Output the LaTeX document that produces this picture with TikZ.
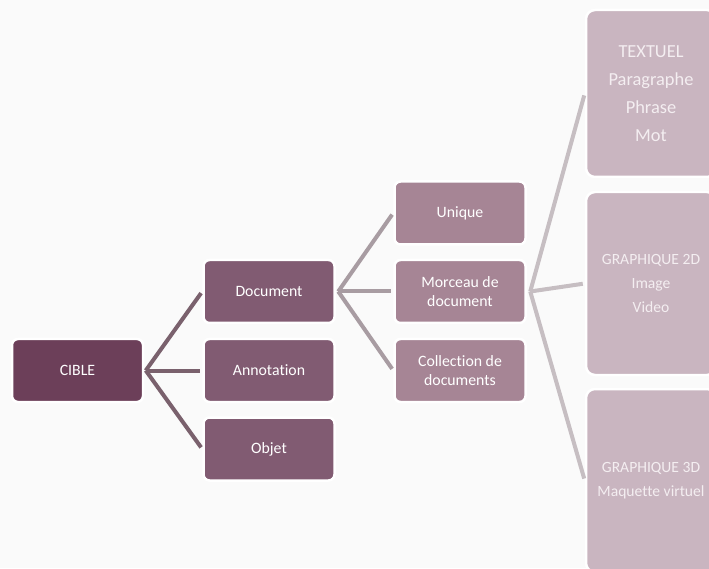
\documentclass[tikz,border=0pt]{standalone}
\usepackage{fontspec}
\setmainfont[Ligatures=NoCommon]{Carlito}
\usetikzlibrary{calc}
\definecolor{bg}{HTML}{FAFAFA}
\definecolor{croot}{HTML}{6C3F59}
\definecolor{cone}{HTML}{815B72}
\definecolor{ctwo}{HTML}{A68595}
\definecolor{cthree}{HTML}{C9B5C0}
\definecolor{lone}{HTML}{7A616D}
\definecolor{ltwo}{HTML}{A89CA2}
\definecolor{lthree}{HTML}{C6BEC2}
\definecolor{tlight}{HTML}{F4EEF1}
\begin{document}
\begin{tikzpicture}[x=1pt,y=1pt,
  box/.style={draw=white, line width=2.5pt, rounded corners=6pt, minimum width=131pt,
    minimum height=63pt, align=center, text=white, inner sep=0pt,
    font=\fontsize{15.8}{18.5}\selectfont},
  rootbox/.style={box, fill=croot},
  onebox/.style={box, fill=cone},
  twobox/.style={box, fill=ctwo},
  threebox/.style={box, fill=cthree, minimum width=130pt, rounded corners=9pt, text=tlight,
    font=\fontsize{15.6}{24}\selectfont},
  lkone/.style={draw=lone, line width=4pt, shorten >=2pt},
  lktwo/.style={draw=ltwo, line width=4pt, shorten >=2pt},
  lkthree/.style={draw=lthree, line width=4pt, shorten >=2pt}]
\fill[bg] (0,0) rectangle (709,568);
\useasboundingbox (0,0) rectangle (709,568);
\clip (0,0) rectangle (709,568);

\node[rootbox] (cible) at (77.5,197.5) {CIBLE};
\node[onebox] (doc) at (269,276.5) {Document};
\node[onebox] (annot) at (269,197.5) {Annotation};
\node[onebox] (objet) at (269,119) {Objet};
\node[twobox] (uniq) at (460,355) {Unique};
\node[twobox] (morc) at (460,276.5) {Morceau de\\document};
\node[twobox] (coll) at (460,197.5) {Collection de\\documents};
\node[threebox, minimum height=167pt, font=\fontsize{18.4}{28}\selectfont] (tx) at (651,474.5) {TEXTUEL\\Paragraphe\\Phrase\\Mot};
\node[threebox, minimum height=183pt] (gtwo) at (651,284.5) {GRAPHIQUE 2D\\Image\\Video};
\node[threebox, minimum height=183pt] (gthree) at (651,87.5) {GRAPHIQUE 3D\\Maquette virtuel};

\coordinate (fone) at ($(cible.east)+(1.5,0)$);
\coordinate (ftwo) at ($(doc.east)+(2.5,0)$);
\coordinate (fthree) at ($(morc.east)+(3.5,0)$);

\draw[lkone] (fone) -- (doc.west);
\draw[lkone] (fone) -- (annot.west);
\draw[lkone] (fone) -- (objet.west);
\draw[lktwo] (ftwo) -- (uniq.west);
\draw[lktwo] (ftwo) -- (morc.west);
\draw[lktwo] (ftwo) -- (coll.west);
\draw[lkthree] (fthree) -- (tx.west);
\draw[lkthree] (fthree) -- (gtwo.west);
\draw[lkthree] (fthree) -- (gthree.west);
\end{tikzpicture}
\end{document}
